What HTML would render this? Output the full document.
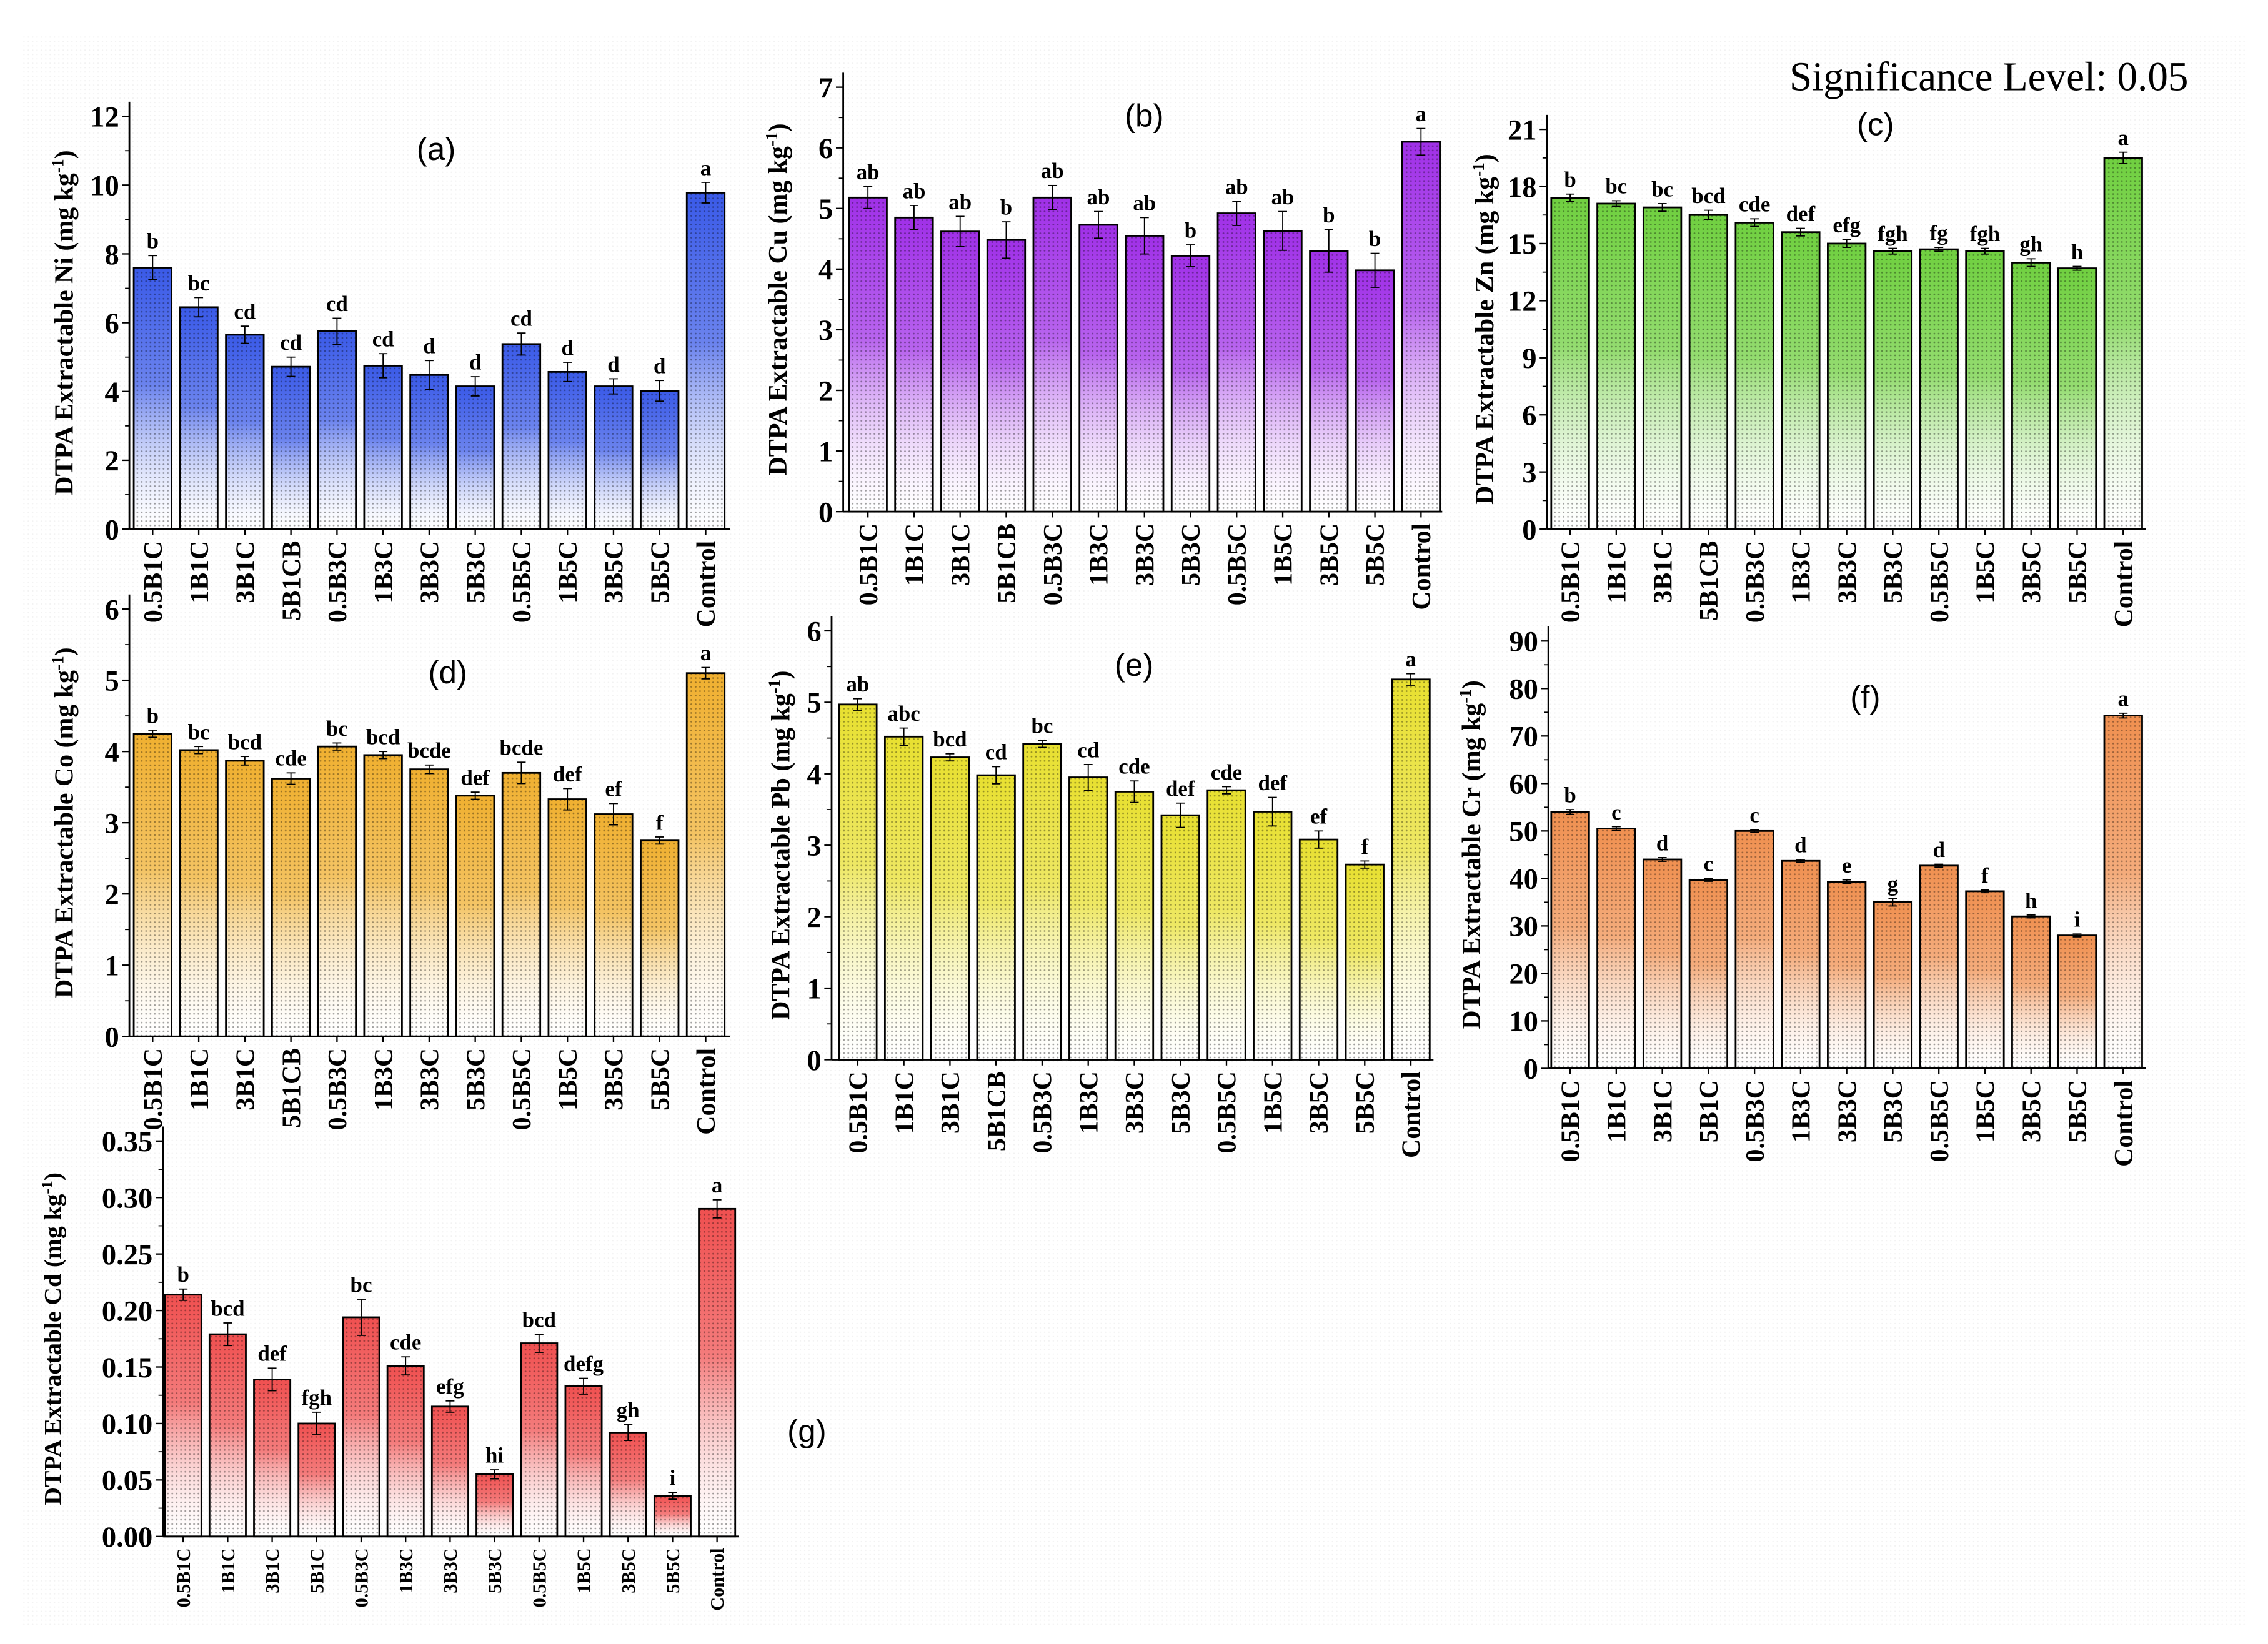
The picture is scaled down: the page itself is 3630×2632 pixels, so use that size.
<!DOCTYPE html>
<html><head><meta charset="utf-8"><style>
html,body{margin:0;padding:0;background:#fff}
svg{display:block}
</style></head><body>
<svg id="fig" width="3630" height="2632" viewBox="0 0 1560 1131" preserveAspectRatio="none" xmlns="http://www.w3.org/2000/svg" font-family="Liberation Serif, serif">
<defs>
<pattern id="dots" width="3" height="3" patternUnits="userSpaceOnUse"><rect width="3" height="3" fill="none"/><circle cx="1.5" cy="1.5" r="0.6" fill="#000" opacity="0.35"/></pattern>
<pattern id="bgdots" width="3" height="3" patternUnits="userSpaceOnUse"><circle cx="1.5" cy="1.5" r="0.5" fill="#000" opacity="0.05"/></pattern>
</defs>
<rect x="15" y="25" width="1530" height="1095" fill="url(#bgdots)"/>
<text x="1368" y="62" font-size="28" text-anchor="middle" style="font-family:'Liberation Serif',serif">Significance Level: 0.05</text>
</svg>
<script>
const catsA = ["0.5B1C","1B1C","3B1C","5B1CB","0.5B3C","1B3C","3B3C","5B3C","0.5B5C","1B5C","3B5C","5B5C","Control"];
const catsB = ["0.5B1C","1B1C","3B1C","5B1C","0.5B3C","1B3C","3B3C","5B3C","0.5B5C","1B5C","3B5C","5B5C","Control"];
const niValues = [7.6,6.45,5.65,4.72,5.75,4.75,4.48,4.15,5.38,4.57,4.15,4.02,9.78];
const niErr = [0.35,0.28,0.25,0.28,0.38,0.35,0.42,0.28,0.32,0.28,0.22,0.3,0.3];
const niLetters = ["b","bc","cd","cd","cd","cd","d","d","cd","d","d","d","a"];
const cuValues = [5.18,4.85,4.62,4.48,5.18,4.73,4.55,4.22,4.92,4.63,4.3,3.98,6.1];
const cuErr = [0.18,0.2,0.25,0.3,0.2,0.22,0.3,0.18,0.2,0.32,0.35,0.28,0.22];
const cuLetters = ["ab","ab","ab","b","ab","ab","ab","b","ab","ab","b","b","a"];
const znValues = [17.4,17.1,16.9,16.5,16.1,15.6,15.0,14.6,14.7,14.6,14.0,13.7,19.5];
const znErr = [0.2,0.15,0.2,0.25,0.2,0.2,0.2,0.15,0.1,0.15,0.2,0.1,0.3];
const znLetters = ["b","bc","bc","bcd","cde","def","efg","fgh","fg","fgh","gh","h","a"];
const coValues = [4.25,4.02,3.87,3.62,4.07,3.95,3.75,3.38,3.7,3.33,3.12,2.75,5.1];
const coErr = [0.05,0.05,0.06,0.08,0.05,0.05,0.06,0.05,0.15,0.15,0.15,0.05,0.08];
const coLetters = ["b","bc","bcd","cde","bc","bcd","bcde","def","bcde","def","ef","f","a"];
const pbValues = [4.97,4.52,4.23,3.98,4.42,3.95,3.75,3.42,3.77,3.47,3.08,2.73,5.32];
const pbErr = [0.08,0.12,0.05,0.12,0.05,0.18,0.15,0.17,0.05,0.2,0.12,0.05,0.08];
const pbLetters = ["ab","abc","bcd","cd","bc","cd","cde","def","cde","def","ef","f","a"];
const crValues = [54,50.5,44,39.7,50,43.7,39.3,35,42.7,37.3,32,28,74.3];
const crErr = [0.5,0.4,0.4,0.3,0.3,0.3,0.4,0.8,0.3,0.3,0.3,0.3,0.5];
const crLetters = ["b","c","d","c","c","d","e","g","d","f","h","i","a"];
const cdValues = [0.214,0.179,0.139,0.1,0.194,0.151,0.115,0.055,0.171,0.133,0.092,0.036,0.29];
const cdErr = [0.005,0.01,0.01,0.01,0.016,0.008,0.005,0.004,0.008,0.007,0.007,0.003,0.008];
const cdLetters = ["b","bcd","def","fgh","bc","cde","efg","hi","bcd","defg","gh","i","a"];
const niTicks = [0,2,4,6,8,10,12];
const cuTicks = [0,1,2,3,4,5,6,7];
const znTicks = [0,3,6,9,12,15,18,21];
const coTicks = [0,1,2,3,4,5,6];
const pbTicks = [0,1,2,3,4,5,6];
const crTicks = [0,10,20,30,40,50,60,70,80,90];
const cdTicks = ["0.00","0.05","0.10","0.15","0.20","0.25","0.30","0.35"];

const NS="http://www.w3.org/2000/svg";
const svg=document.getElementById('fig');
function mk(tag,attrs,parent){const e=document.createElementNS(NS,tag);for(const k in attrs)e.setAttribute(k,attrs[k]);(parent||svg).appendChild(e);return e;}

function panel(p){
  const g=mk('g',{});
  
  
  const gid='grad-'+p.id;
  const defs=svg.querySelector('defs');
  const lg=mk('linearGradient',{id:gid,x1:0,y1:0,x2:0,y2:1},defs);
  mk('stop',{offset:'0','stop-color':p.color},lg);
  mk('stop',{offset:'0.45','stop-color':p.color,'stop-opacity':'0.75'},lg);
  mk('stop',{offset:'1','stop-color':'#ffffff','stop-opacity':'0.2'},lg);
  const tmax=Number(p.ticks[p.ticks.length-1]);
  const ys=v=>p.y0-(v/tmax)*(p.y0-p.ytop);
  const xs=i=>p.x1+i*p.step;
  const ya=mk('line',{x1:p.ax,y1:p.ytop-10,x2:p.ax,y2:p.y0,stroke:'#000','stroke-width':1.2},g);
  
  
  const xa=mk('line',{x1:p.ax,y1:p.y0,x2:p.axr,y2:p.y0,stroke:'#000','stroke-width':1.2},g);
  
  
  p.ticks.forEach(t=>{
    const y=ys(Number(t));
    mk('line',{x1:p.ax-5,y1:y,x2:p.ax,y2:y,stroke:'#000','stroke-width':1},g);
    const mid=ys(Number(t)+tmax/(p.ticks.length-1)/2);
    if(Number(t)<tmax) mk('line',{x1:p.ax-3,y1:mid,x2:p.ax,y2:mid,stroke:'#000','stroke-width':0.8},g);
    const tl=mk('text',{x:p.ax-7,y:y+7,'font-size':p.tickFs,'text-anchor':'end','font-weight':'bold'},g);
    tl.textContent=t;
    
    
  });
  p.values.forEach((v,i)=>{
    const x=xs(i),y=ys(v),h=p.y0-y;
    const b=mk('rect',{x:x-p.bw/2,y:y,width:p.bw,height:h,fill:'url(#'+gid+')',stroke:'#000','stroke-width':1.2},g);
    
    
    mk('rect',{x:x-p.bw/2,y:y,width:p.bw,height:h,fill:'url(#dots)'},g);
    const e=p.err[i];
    const ye1=ys(v+e),ye2=ys(v-e);
    mk('line',{x1:x,y1:ye1,x2:x,y2:ye2,stroke:'#000','stroke-width':0.8},g);
    mk('line',{x1:x-3,y1:ye1,x2:x+3,y2:ye1,stroke:'#000','stroke-width':0.8},g);
    mk('line',{x1:x-3,y1:ye2,x2:x+3,y2:ye2,stroke:'#000','stroke-width':0.8},g);
    const lt=mk('text',{x:x,y:ye1-5,'font-size':p.letFs,'text-anchor':'middle','font-weight':'bold'},g);
    lt.textContent=p.letters[i];
    
    
    mk('line',{x1:x,y1:p.y0,x2:x,y2:p.y0+4,stroke:'#000','stroke-width':1},g);
    const xl=mk('text',{x:0,y:0,'font-size':p.catFs,'text-anchor':'end','font-weight':'bold',transform:`translate(${x+p.catFs*0.35},${p.y0+8}) rotate(-90)`},g);
    xl.textContent=p.cats[i];
    
    
  });
  const cy=(p.ytop+p.y0)/2;
  const yt=mk('text',{x:0,y:0,'font-size':p.titleFs,'text-anchor':'middle','font-weight':'bold',transform:`translate(${p.titleX},${cy}) rotate(-90)`},g);
  
  
  const s1=mk('tspan',{},yt);s1.textContent='DTPA Extractable '+p.el+' (mg kg';
  const s2=mk('tspan',{'baseline-shift':'super','font-size':p.titleFs*0.65},yt);s2.textContent='-1';
  const s3=mk('tspan',{},yt);s3.textContent=')';
  const pl=mk('text',{x:p.lx,y:p.ly,'font-size':22,'text-anchor':'middle',style:"font-family:'Liberation Sans',sans-serif"},g);
  pl.textContent='('+p.id+')';
  
  
}
panel({id:'a',el:'Ni',color:'#3a5ae8',values:niValues,err:niErr,letters:niLetters,cats:catsA,ticks:niTicks,ax:89,axr:502,y0:364,ytop:80,x1:105,step:31.7,bw:26,tickFs:20,letFs:15,catFs:18,titleFs:18,titleX:50,lx:300,ly:110});
panel({id:'b',el:'Cu',color:'#a030e8',values:cuValues,err:cuErr,letters:cuLetters,cats:catsA,ticks:cuTicks,ax:580,axr:992,y0:352,ytop:60,x1:597,step:31.7,bw:26,tickFs:20,letFs:15,catFs:18,titleFs:18,titleX:541,lx:787,ly:87});
panel({id:'c',el:'Zn',color:'#70d040',values:znValues,err:znErr,letters:znLetters,cats:catsA,ticks:znTicks,ax:1064,axr:1476,y0:364,ytop:89,x1:1080,step:31.7,bw:26,tickFs:20,letFs:15,catFs:18,titleFs:18,titleX:1027,lx:1290,ly:93});
panel({id:'d',el:'Co',color:'#f0b030',values:coValues,err:coErr,letters:coLetters,cats:catsA,ticks:coTicks,ax:89,axr:502,y0:713,ytop:419,x1:105,step:31.7,bw:26,tickFs:20,letFs:15,catFs:18,titleFs:18,titleX:50,lx:308,ly:470});
panel({id:'e',el:'Pb',color:'#e8e030',values:pbValues,err:pbErr,letters:pbLetters,cats:catsA,ticks:pbTicks,ax:572,axr:986,y0:729,ytop:434,x1:590,step:31.7,bw:26,tickFs:20,letFs:15,catFs:18,titleFs:18,titleX:543,lx:780,ly:465});
panel({id:'f',el:'Cr',color:'#f09050',values:crValues,err:crErr,letters:crLetters,cats:catsB,ticks:crTicks,ax:1065,axr:1476,y0:735,ytop:441,x1:1080,step:31.7,bw:26,tickFs:20,letFs:15,catFs:18,titleFs:18,titleX:1018,lx:1283,ly:487});
panel({id:'g',el:'Cd',color:'#f05050',values:cdValues,err:cdErr,letters:cdLetters,cats:catsB,ticks:cdTicks,ax:112,axr:508,y0:1057,ytop:785,x1:126,step:30.6,bw:25,tickFs:20,letFs:15,catFs:13,titleFs:17,titleX:42,lx:555,ly:992});
</script>
</body></html>
